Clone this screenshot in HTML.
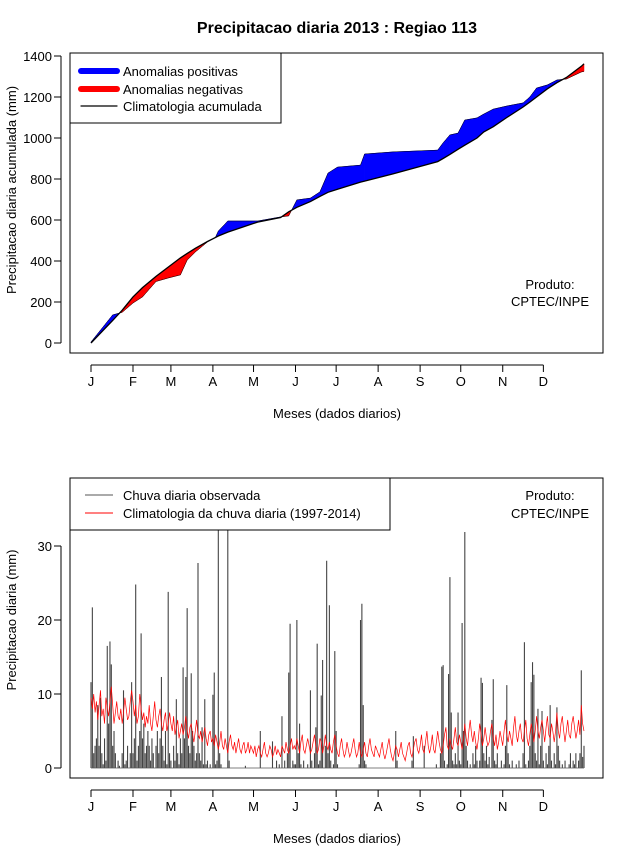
<!DOCTYPE html>
<html><head><meta charset="utf-8">
<style>
html,body{margin:0;padding:0;background:#fff;}
svg{display:block;font-family:"Liberation Sans",sans-serif;}
</style></head>
<body>
<svg id="chart" width="640" height="850" viewBox="0 0 640 850" xmlns="http://www.w3.org/2000/svg">
<rect width="640" height="850" fill="#fff"/>
<text x="337" y="33" text-anchor="middle" font-size="16" font-weight="bold">Precipitacao diaria 2013 : Regiao 113</text>
<g id="top"></g>
<g id="bot"></g>
</svg>
<script>
// ---- top panel data (accumulated, read at breakpoint days) ----
const accDays = [1,17,24,32,39,49,58,67,72,78,87,93,95,102,124,141,147,153,163,170,176,183,200,203,224,257,261,266,272,277,286,291,298,308,320,325,330,338,345,352,363,365];
const obsAccum = [5,137,150,195,225,300,317,332,405,444,493,517,546,595,595,615,620,698,707,737,829,858,868,922,932,941,976,1015,1024,1088,1098,1117,1141,1156,1171,1200,1244,1259,1283,1288,1322,1325];
const climAccum = [0,110,160,225,270,325,370,415,437,462,495,515,522,541,590,612,640,662,690,715,735,750,785,790,825,885,900,920,945,965,1000,1030,1055,1100,1151,1175,1200,1240,1270,1295,1350,1362];
const monthLabels = ["J","F","M","A","M","J","J","A","S","O","N","D"];
const monthStartDays = [1,32,60,91,121,152,182,213,244,274,305,335];
const topTicks = [0,200,400,600,800,1000,1200,1400];
const botTicks = [0,10,20,30];
// ---- bottom panel data (daily mm) ----
const dailyObs = [
11.6,21.7,2,3,4,8.5,3,9.5,2,0.5,4,1,16.5,6,17.1,14,3,5,2,0,1,0.3,0,2,10.5,0.5,1,3,0,2,11.6,
2,4,24.8,1,3,5,18.2,4,6,2,3,5,3,1,4,2,0,3,5,2,4,12.3,3,1,5,0.5,23.8,2,
1,0,3,1,9.3,2,0.5,4,2,13.6,4,12.3,21.6,3,2,12.8,5,3,1,2,27.7,2,1,5.5,0.5,9.3,0.5,1,0,0.5,0,
9.9,12.9,0.5,1,38,2,0.5,0,0,0,0,38,1,0,0,0,0,0,0,0,0,0,0,0,0.3,0,0,0,0,0,
0,0,0,0,0,5,0,0,0,0,0,0,0,0,3.6,0,0,1,0,0.5,0,7,0,1,0,2,12.9,19.5,0,1,0.5,
0.5,20,2,6,0.5,0,1,0,0,0.5,0,10.5,1,0,2,5.5,16.8,0.5,1,9.8,14.6,0,3,28,2,22,1,0,0.5,15.8,
5,0.5,0,0,0,0,0,0,0,0,0,0,0,0,0,0,0,0.5,20,22.2,8.5,1,0.5,0,0,0,0,0,0,0,0,
0,0,0,0,0,0,0,0,0,0,0,0,0,5,1,0,0,0,0,0,0,0,0,0,0,1,4.3,0,0,0,0,
0,0,0,3,0,0,0,0,0,0,0,0,0.5,0,0,2,13.7,13.9,1,0,0.5,12.7,25.8,7.5,1,0.5,2,0.5,7.5,1,
0.5,19.6,5,31.9,3,1,0,0.5,0,2,0.5,3,1,0,1,12.2,11.5,2,1,3,0.5,1.5,0,6.5,12,1,0.5,2,0,0,1,
0,0.5,3,11.2,2,0.5,0,1,0,0,0.5,0,1,0,0,2,17,0.5,0,1,3,11.6,14.3,12.6,2,1,8,0.5,3,7.7,
1,0,2,0.5,3,8.5,1,0,2,0.5,8.2,3,1,0,0.5,0,1,0,0,0.5,2,0,1,0.5,2,0,1,2,13.2,1.5,3];
const dailyClim = [
9.5,8,10,7.5,9,6.5,8.5,10.5,7,8,6,9.5,8,7,9,11,8.5,6,7.5,9,7,6.5,8,6,7.5,9.5,8,6.5,7,9,10.5,
9,7,8.5,6,7,10,8,6.5,7.5,5.5,7,6,8.5,6,5,7,9,6.5,5.5,7,8,6,5,6.5,7.5,5,6,7.5,
6,5,7,4.5,5.5,6.5,4,5,6,4.5,5.5,7,5,4,5.5,6,4.5,3.5,5,6.5,4.5,4,5,3.5,4.5,5.5,4,3,4.5,5,3.5,
4,3,4.5,3.5,2.5,3.5,5,3,2.5,4,3,2,3.5,4.5,3,2.5,3.5,2,3,4,2.5,2,3,3.5,2,2.5,3.5,2,3,2.5,
2,3,1.5,2.5,3,2,1.5,2.5,3.5,2,1.5,2,3,2.5,1.5,2,3,1.8,2.5,2,1.5,3,2.5,2,3.5,2.5,2,3,4,2.5,3,
2.5,4,3,2,3.5,4.5,2.5,2,3,4,3,2,2.5,3.5,4.5,3,2,2.5,4,3.5,2,3,4.5,3,2.5,3.5,2.5,2,3.5,4.5,
3,2,1.5,3,4,2.5,1.5,2,3.5,2.5,1.5,2,3,4,2.5,1.5,2,3.5,2,1.5,2.5,3.5,2,1.5,3,4,2.5,2,1.5,3,2.5,
2,1.5,2.5,3.5,2,1.2,2,3,4,2.5,1.5,1,2,3,2.5,1.5,2.5,3.5,2,1.5,1,2,3,3.5,2,1.5,2.5,3.5,4,2.5,2,
3,4.5,2.5,2,3.5,5,3,2,3,4.5,2.5,2,3.5,5,3.5,2.5,2,3,4.5,5.5,3,2.5,4,3,2.5,4,5.5,3.5,3,4.5,
3.5,2.5,4,6,4,3,5,6.5,4.5,3.5,5,3.5,2.5,4,6,4.5,3,4,5.5,4,3,3.5,5,6,4,3,4.5,2.5,3.5,5,4,
3,5,6.5,4.5,3.5,5,4,3,5.5,7,4.5,3.5,5,6,4,3.5,5,6.5,4,3,4.5,6,5,3.5,5,7,5,4,5.5,6.5,
5,3.5,5.5,7,4.5,4,6,5,3.5,5,7.5,5,4,6,7,5,3.5,5,6.5,4.5,4,6,7,5.5,4,5,6.5,4.5,8.5,6,5];

const NS="http://www.w3.org/2000/svg";
function mk(parent,tag,attrs,text){const e=document.createElementNS(NS,tag);for(const k in attrs)e.setAttribute(k,attrs[k]);if(text!==undefined)e.textContent=text;parent.appendChild(e);return e;}
const xDay = d => 91 + (d-1)*(493/364);
const yTop = v => 343 - v*0.2050;
const yBot = v => 768 - v*7.4;

function axes(g, top, bottom, yfn, ticks, axisY, ytitle, ytitleY){
  const box=mk(g,'rect',{x:70,y:top,width:533,height:bottom-top,fill:'none',stroke:'#000','stroke-width':1});
  
  
  mk(g,'line',{x1:xDay(1),x2:xDay(335),y1:axisY,y2:axisY,stroke:'#000'});
  monthStartDays.forEach((d,i)=>{
    mk(g,'line',{x1:xDay(d),x2:xDay(d),y1:axisY,y2:axisY+7,stroke:'#000'});
    const t=mk(g,'text',{x:xDay(d),y:axisY+21,'text-anchor':'middle','font-size':13},monthLabels[i]);
    
    
  });
  mk(g,'line',{x1:61,x2:61,y1:yfn(ticks[0]),y2:yfn(ticks[ticks.length-1]),stroke:'#000'});
  ticks.forEach(v=>{
    mk(g,'line',{x1:54,x2:61,y1:yfn(v),y2:yfn(v),stroke:'#000'});
    const t=mk(g,'text',{x:52,y:yfn(v)+5,'text-anchor':'end','font-size':13},String(v));
    
    
  });
  const xt=mk(g,'text',{x:337,y:axisY+53,'text-anchor':'middle','font-size':13},'Meses (dados diarios)');
  
  
  const yt=mk(g,'text',{x:16,y:ytitleY,'text-anchor':'middle','font-size':13,transform:`rotate(-90 16 ${ytitleY})`},ytitle);
  
  
}

// ---- top panel ----
const gT=document.getElementById('top');
axes(gT,53,353,yTop,topTicks,365,'Precipitacao diaria acumulada (mm)',190);
for(let i=0;i<accDays.length-1;i++){
  const d0=accDays[i],d1=accDays[i+1];
  const o0=obsAccum[i],o1=obsAccum[i+1],c0=climAccum[i],c1=climAccum[i+1];
  const a=o0-c0,b=o1-c1;
  const polys=[];
  if(a*b<0){
    const t=a/(a-b);const dx=d0+t*(d1-d0);const vx=c0+t*(c1-c0);
    polys.push([[d0,o0],[dx,vx],[d0,c0],a]);
    polys.push([[dx,vx],[d1,o1],[d1,c1],b]);
  } else {
    polys.push([[d0,o0],[d1,o1],[d1,c1],[d0,c0],a+b]);
  }
  polys.forEach(p=>{
    const s=p.pop();
    if(s===0)return;
    const pts=p.map(q=>xDay(q[0]).toFixed(1)+','+yTop(q[1]).toFixed(1)).join(' ');
    const el=mk(gT,'polygon',{points:pts,fill:s>0?'#0000ff':'#ff0000',stroke:s>0?'#0000ff':'#ff0000','stroke-width':0.5});
    
    
  });
}
const obsLine=mk(gT,'polyline',{points:accDays.map((d,i)=>xDay(d).toFixed(1)+','+yTop(obsAccum[i]).toFixed(1)).join(' '),fill:'none',stroke:'#000','stroke-width':0.5});


const climLine=mk(gT,'polyline',{points:accDays.map((d,i)=>xDay(d).toFixed(1)+','+yTop(climAccum[i]).toFixed(1)).join(' '),fill:'none',stroke:'#000','stroke-width':1.3});


// top legend
const lgT=mk(gT,'g',{});


mk(lgT,'rect',{x:70,y:53,width:211,height:70,fill:'#fff',stroke:'#000'});
[['#0000ff',6,'Anomalias positivas',71],['#ff0000',6,'Anomalias negativas',89],['#000',1.2,'Climatologia acumulada',106]].forEach(e=>{
  const g=mk(lgT,'g',{});
  
  
  mk(g,'line',{x1:81,x2:117,y1:e[3],y2:e[3],stroke:e[0],'stroke-width':e[1],'stroke-linecap':'round'});
  mk(g,'text',{x:123,y:e[3]+5,'font-size':13},e[2]);
});
const p1=mk(gT,'text',{x:550,y:289,'text-anchor':'middle','font-size':13},'Produto:');


const p2=mk(gT,'text',{x:550,y:306,'text-anchor':'middle','font-size':13},'CPTEC/INPE');



// ---- bottom panel ----
const gB=document.getElementById('bot');
axes(gB,478,778,yBot,botTicks,790,'Precipitacao diaria (mm)',620);
const clip=mk(gB,'clipPath',{id:'cb'});
mk(clip,'rect',{x:70,y:478,width:533,height:300});
const bars=mk(gB,'g',{'clip-path':'url(#cb)'});


dailyObs.forEach((v,i)=>{
  if(v<=0)return;
  const x=xDay(i+1);
  const b=mk(bars,'line',{x1:x,x2:x,y1:yBot(0),y2:yBot(v),stroke:'#444','stroke-width':1.1});
  
  
});
mk(bars,'line',{x1:xDay(1),x2:xDay(365),y1:yBot(0),y2:yBot(0),stroke:'#555','stroke-width':0.8});
const cl=mk(gB,'polyline',{points:dailyClim.map((v,i)=>xDay(i+1).toFixed(1)+','+yBot(v).toFixed(1)).join(' '),fill:'none',stroke:'#ff0000','stroke-width':0.7});


const lgB=mk(gB,'g',{});


mk(lgB,'rect',{x:70,y:478,width:320,height:52,fill:'#fff',stroke:'#000'});
[['#555','Chuva diaria observada',495],['#ff0000','Climatologia da chuva diaria (1997-2014)',513]].forEach(e=>{
  const g=mk(lgB,'g',{});
  
  
  mk(g,'line',{x1:85,x2:113,y1:e[2],y2:e[2],stroke:e[0],'stroke-width':1});
  mk(g,'text',{x:123,y:e[2]+5,'font-size':13},e[1]);
});
const p3=mk(gB,'text',{x:550,y:500,'text-anchor':'middle','font-size':13},'Produto:');


const p4=mk(gB,'text',{x:550,y:518,'text-anchor':'middle','font-size':13},'CPTEC/INPE');


</script>
</body></html>
